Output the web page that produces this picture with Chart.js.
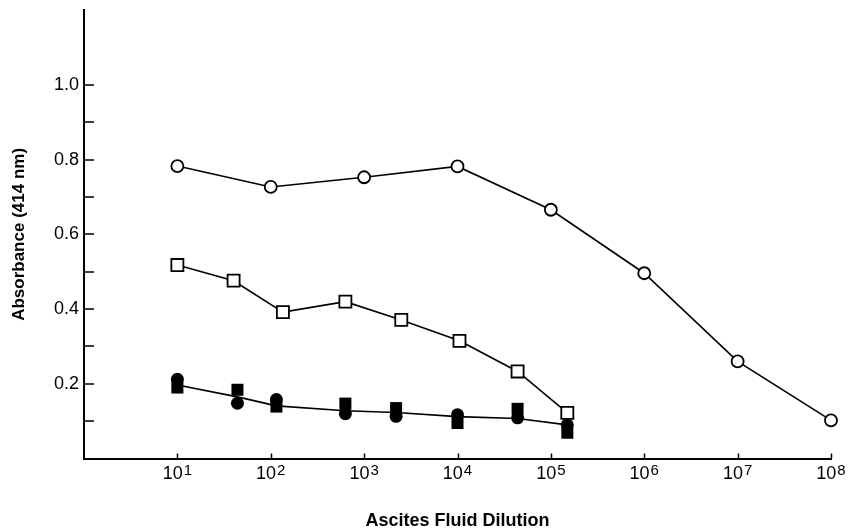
<!DOCTYPE html>
<html><head><meta charset="utf-8">
<script src="https://cdn.jsdelivr.net/npm/chart.js@4"></script>
<style>html,body{margin:0;padding:0;background:#fff}#wrap{width:850px;height:532px;position:relative}</style>
</head><body><div id="wrap"><canvas id="c" width="850" height="532"></canvas></div>
<script>
const openCircleX = [10, 100, 1000, 10000, 100000, 1000000, 10000000, 100000000];
const openCircleY = [0.783, 0.727, 0.753, 0.782, 0.666, 0.496, 0.26, 0.102];
const openSquareX = [10, 40, 135, 630, 2500, 10500, 44000, 150000];
const openSquareY = [0.518, 0.476, 0.392, 0.42, 0.371, 0.315, 0.233, 0.122];
const filledX = [10, 44, 115, 630, 2200, 10000, 44000, 150000];
const filledCircleY = [0.212, 0.148, 0.158, 0.12, 0.113, 0.117, 0.109, 0.09];
const filledSquareY = [0.19, 0.184, 0.139, 0.147, 0.135, 0.095, 0.133, 0.069];
const filledMeanY = [0.197, 0.165, 0.141, 0.128, 0.123, 0.112, 0.107, 0.09];
const xTickValues = [10, 100, 1000, 10000, 100000, 1000000, 10000000, 100000000];
const xTickBase = '10';
const xTickExponents = ['1', '2', '3', '4', '5', '6', '7', '8'];
const yTickValues = [0.1, 0.2, 0.3, 0.4, 0.5, 0.6, 0.7, 0.8, 0.9, 1.0];
const yLabelValues = [0.2, 0.4, 0.6, 0.8, 1.0];
const xTitle = 'Ascites Fluid Dilution';
const yTitle = 'Absorbance (414 nm)';

const FONT = '"Liberation Sans", Arial, Helvetica, sans-serif';
const pts = (xs, ys) => xs.map((x, i) => ({x: x, y: ys[i]}));

const axisDecor = {
  id: 'axisDecor',
  beforeDatasetsDraw(chart) {
    const ctx = chart.ctx, xs = chart.scales.x, ys = chart.scales.y, a = chart.chartArea;
    ctx.save();
    ctx.strokeStyle = '#000';
    ctx.lineWidth = 1.5;
    ctx.beginPath();
    xTickValues.forEach(v => {
      const px = Math.round(xs.getPixelForValue(v)) + 0.5;
      ctx.moveTo(px, a.bottom); ctx.lineTo(px, a.bottom - 5);
    });
    yTickValues.forEach(v => {
      const py = Math.round(ys.getPixelForValue(v));
      ctx.moveTo(a.left, py); ctx.lineTo(a.left + 10, py);
    });
    ctx.stroke();
    ctx.restore();
  },
  afterDraw(chart) {
    const ctx = chart.ctx, xs = chart.scales.x;
    ctx.save();
    ctx.fillStyle = '#000';
    ctx.textBaseline = 'alphabetic';
    ctx.textAlign = 'left';
    xTickValues.forEach((v, i) => {
      const px = xs.getPixelForValue(v);
      ctx.font = '18px ' + FONT;
      const w1 = ctx.measureText(xTickBase).width;
      ctx.font = '15px ' + FONT;
      const w2 = ctx.measureText(xTickExponents[i]).width;
      const start = px - (w1 + w2 + 1) / 2;
      ctx.font = '18px ' + FONT;
      ctx.fillText(xTickBase, start, 479);
      ctx.font = '15px ' + FONT;
      ctx.fillText(xTickExponents[i], start + w1 + 1, 475);
    });
    ctx.restore();
  }
};

new Chart(document.getElementById('c'), {
  type: 'scatter',
  data: {
    datasets: [
      { label: 'open circles', data: pts(openCircleX, openCircleY), showLine: true, clip: false,
        borderColor: '#000', borderWidth: 1.6, backgroundColor: '#fff',
        pointStyle: 'circle', pointRadius: 6, pointBorderWidth: 1.8, pointBackgroundColor: '#fff', pointBorderColor: '#000' },
      { label: 'open squares', data: pts(openSquareX, openSquareY), showLine: true, clip: false,
        borderColor: '#000', borderWidth: 1.6, backgroundColor: '#fff',
        pointStyle: 'rect', pointRadius: 8.5, pointBorderWidth: 1.8, pointBackgroundColor: '#fff', pointBorderColor: '#000' },
      { label: 'filled circles', data: pts(filledX, filledCircleY), showLine: false, clip: false,
        pointStyle: 'circle', pointRadius: 6.5, pointBorderWidth: 0, pointBackgroundColor: '#000', pointBorderColor: '#000' },
      { label: 'filled squares', data: pts(filledX, filledSquareY), showLine: false, clip: false,
        pointStyle: 'rect', pointRadius: 8.5, pointBorderWidth: 0, pointBackgroundColor: '#000', pointBorderColor: '#000' },
      { label: 'filled mean', data: pts(filledX, filledMeanY), showLine: true, clip: false,
        borderColor: '#000', borderWidth: 1.6, pointRadius: 0 }
    ]
  },
  options: {
    responsive: false,
    animation: false,
    devicePixelRatio: 1,
    layout: { padding: { top: 9, right: 19, bottom: 0, left: 0 } },
    plugins: { legend: { display: false }, tooltip: { enabled: false } },
    elements: { line: { tension: 0 } },
    scales: {
      x: {
        type: 'logarithmic', min: 1, max: 100000000, position: 'bottom',
        afterBuildTicks: s => { s.ticks = xTickValues.map(v => ({value: v})); },
        ticks: { display: false },
        grid: { display: false, drawTicks: false, tickLength: 0 },
        border: { display: true, color: '#000', width: 2 },
        title: { display: true, text: xTitle, color: '#000',
          font: { family: FONT, size: 18, weight: 'bold' }, padding: { top: 0, bottom: 0 } },
        afterFit: s => { s.height = 73.5; s.paddingLeft = 0; s.paddingRight = 0; }
      },
      y: {
        min: 0, max: 1.2,
        afterBuildTicks: s => { s.ticks = yTickValues.map(v => ({value: v})); },
        ticks: {
          autoSkip: false, padding: 5, color: '#000',
          font: { family: FONT, size: 18 },
          callback: v => yLabelValues.some(l => Math.abs(l - v) < 1e-9) ? Number(v).toFixed(1) : ''
        },
        grid: { display: false, drawTicks: false, tickLength: 0 },
        border: { display: true, color: '#000', width: 2 },
        title: { display: true, text: yTitle, color: '#000',
          font: { family: FONT, size: 17, weight: 'bold' }, padding: { top: 9, bottom: 0 } },
        afterFit: s => { s.width = 84; s.paddingTop = 0; s.paddingBottom = 0; }
      }
    }
  },
  plugins: [axisDecor]
});
</script></body></html>
